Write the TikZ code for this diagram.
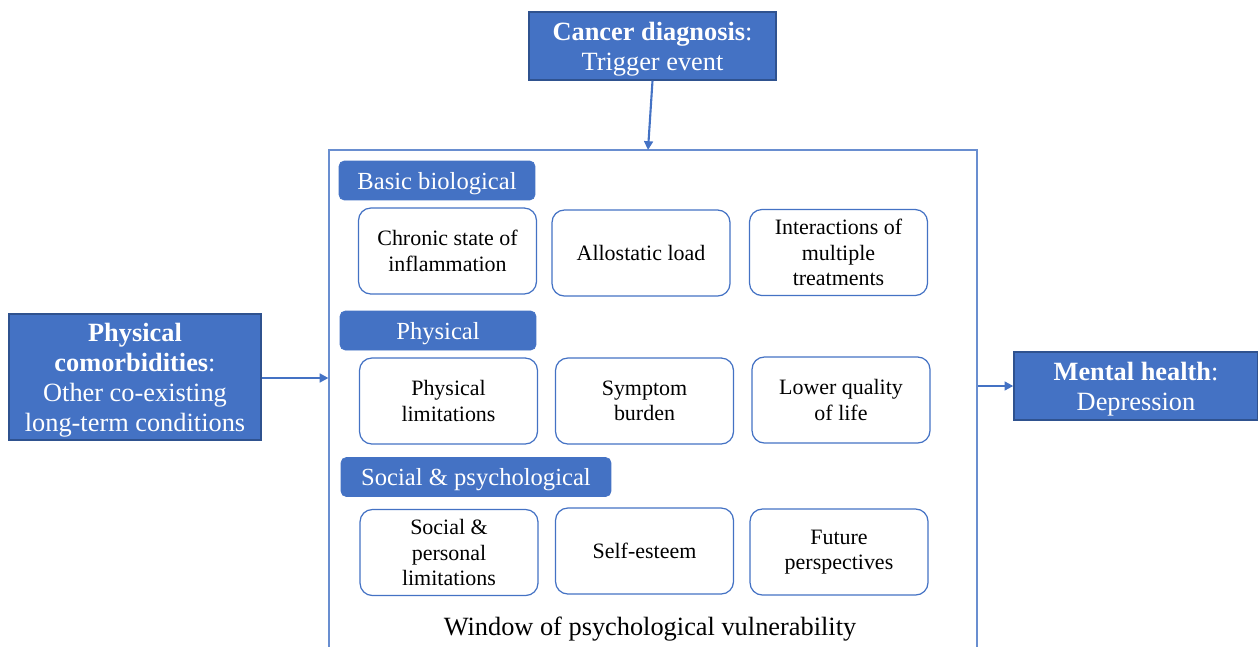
\documentclass[tikz,border=0pt]{standalone}
\usepackage{fontspec}
\setmainfont{Liberation Serif}
\usetikzlibrary{arrows.meta}
\definecolor{blu}{HTML}{4472C4}
\definecolor{dblu}{HTML}{2F528F}
\tikzset{
  bigbox/.style={draw=dblu, line width=0.8pt, fill=blu, inner sep=0pt},
  bigtxt/.style={text=white, align=center, inner sep=0pt, yshift=-0.065cm, font=\fontsize{15}{17}\selectfont},
  catbox/.style={fill=blu, draw=blu, rounded corners=3pt, minimum height=0.78cm, inner sep=0pt},
  cattxt/.style={text=white, inner sep=0pt, yshift=-0.06cm, font=\fontsize{14}{16}\selectfont},
  itembox/.style={draw=blu, line width=0.7pt, rounded corners=7pt, fill=white, minimum width=3.56cm, minimum height=1.72cm, align=center, font=\fontsize{12.5}{14.5}\selectfont},
  conn/.style={draw=blu, line width=1.2pt, -{Triangle[length=5pt,width=5pt]}}
}
\begin{document}
\begin{tikzpicture}[x=0.02cm, y=-0.02cm]
\useasboundingbox (0,0) rectangle (1258,646);
\begin{scope}
\clip (0,0) rectangle (1258,646);
\node[draw=blu!80, line width=0.7pt, minimum width=12.96cm, minimum height=9.96cm, inner sep=0pt] (win) at (653,399) {};
\end{scope}
\node[bigbox, minimum width=4.94cm, minimum height=1.36cm, label={[bigtxt]center:{\textbf{Cancer diagnosis}:\\Trigger event}}] (cancer) at (652.5,46) {};
\node[bigbox, minimum width=5.04cm, minimum height=2.52cm, label={[bigtxt]center:{\textbf{Physical}\\\textbf{comorbidities}:\\Other co-existing\\long-term conditions}}] (pc) at (135,377) {};
\node[bigbox, minimum width=4.88cm, minimum height=1.36cm, label={[bigtxt]center:{\textbf{Mental health}:\\Depression}}] (mh) at (1136,386) {};

\node[catbox, minimum width=3.92cm, label={[cattxt]center:{Basic biological}}] (c1) at (437,180.5) {};
\node[catbox, minimum width=3.92cm, label={[cattxt]center:{Physical}}] (c2) at (438,330.5) {};
\node[catbox, minimum width=5.4cm, label={[cattxt]center:{Social \& psychological}}] (c3) at (476,477) {};

\node[itembox] (a1) at (447.5,251) {Chronic state of\\inflammation};
\node[itembox] (a2) at (641,253) {Allostatic load};
\node[itembox] (a3) at (838.5,252.5) {Interactions of\\multiple\\treatments};
\node[itembox] (b1) at (448.5,401) {Physical\\limitations};
\node[itembox] (b2) at (644.5,401) {Symptom\\burden};
\node[itembox] (b3) at (841,400) {Lower quality\\of life};
\node[itembox] (d1) at (449,552.5) {Social \&\\personal\\limitations};
\node[itembox] (d2) at (644.5,551) {Self-esteem};
\node[itembox] (d3) at (839,552) {Future\\perspectives};

\node[font=\fontsize{15}{17}\selectfont] (wl) at (650,629) {Window of psychological vulnerability};

\coordinate (ctop) at (648,150);
\draw[conn] (cancer.south) -- (ctop);
\draw[conn] (pc.east |- 0,378) -- (win.west |- 0,378);
\draw[conn] (win.east |- mh.west) -- (mh.west);
\end{tikzpicture}
\end{document}
